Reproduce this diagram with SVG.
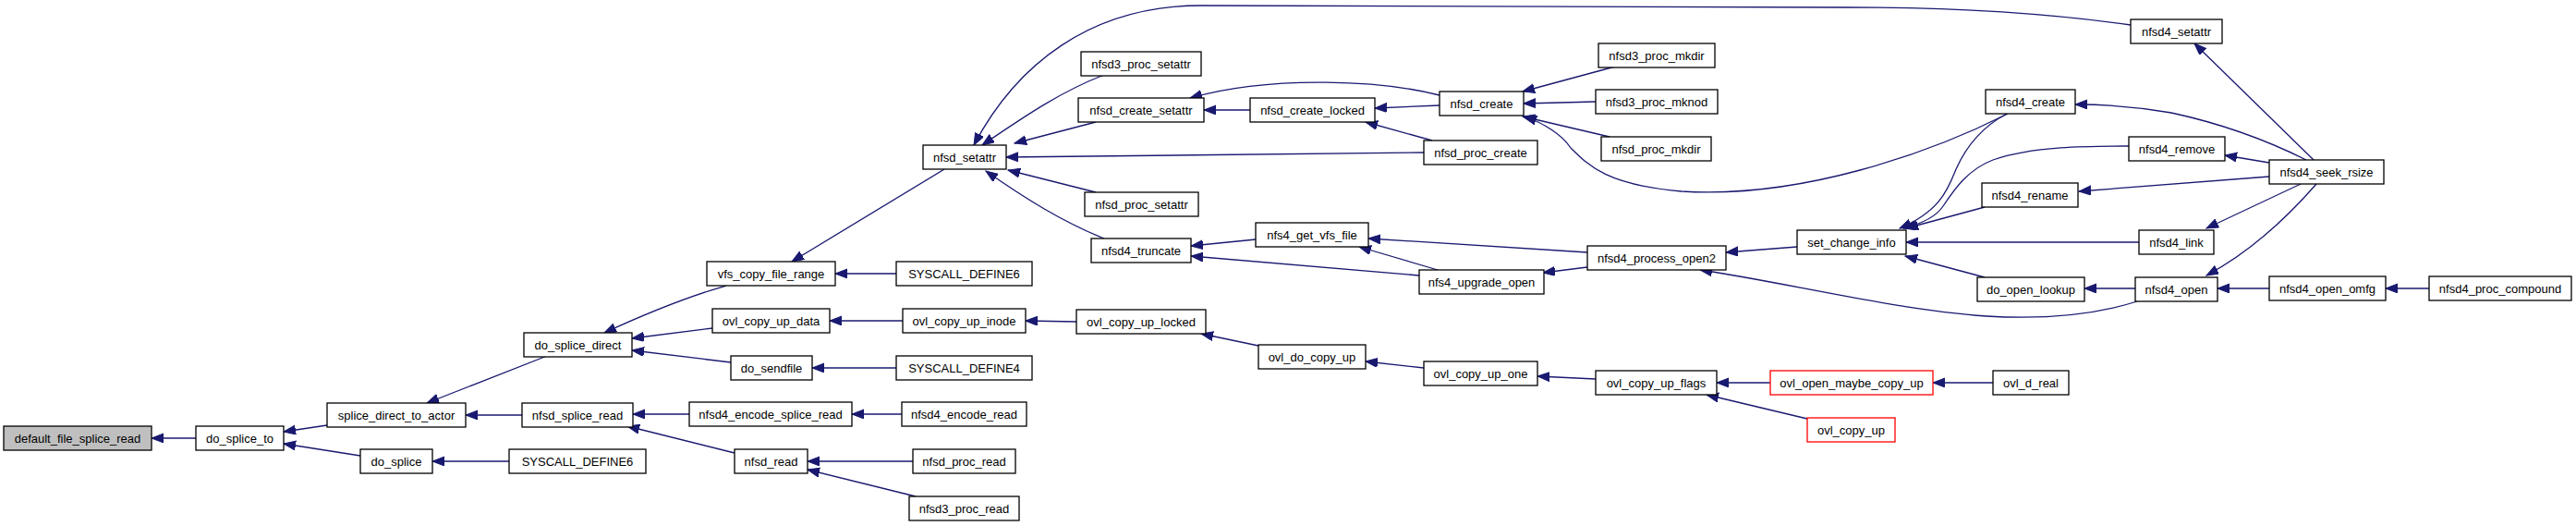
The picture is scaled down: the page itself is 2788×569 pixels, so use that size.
<svg xmlns="http://www.w3.org/2000/svg" width="2788" height="569" viewBox="0 0 2788 569">
<style>
.n rect{fill:#fff;stroke:#000;stroke-width:1.3}
.n.root rect{fill:#bfbfbf}
.n.red rect{stroke:#ff0000}
.n text{font-family:"Liberation Sans",Arial,sans-serif;font-size:13px;fill:#000;text-anchor:middle}
#edges path{fill:none;stroke:#191970;stroke-width:1.3;marker-end:url(#arr)}
</style>
<defs>
<marker id="arr" markerUnits="userSpaceOnUse" markerWidth="14" markerHeight="11" refX="13" refY="5" orient="auto">
<path d="M0,0 L13,5 L0,10 Z" fill="#191970" stroke="#191970" stroke-width="1"/>
</marker>
</defs>
<rect width="2788" height="569" fill="#fff"/>
<g id="edges">
<path d="M212,474 L164,474"/>
<path d="M354,460 L307,467"/>
<path d="M390,493 L307,480"/>
<path d="M592,385 L462,436"/>
<path d="M565,449 L504,449"/>
<path d="M551,499 L468,499"/>
<path d="M786,309 Q730,325 654,360"/>
<path d="M771,355 L684,366"/>
<path d="M791,392 L684,379"/>
<path d="M970,296 L904,296"/>
<path d="M977,347 L898,347"/>
<path d="M970,398 L879,398"/>
<path d="M746,448 L685,448"/>
<path d="M795,490 L679,461"/>
<path d="M976,448 L922,448"/>
<path d="M988,499 L874,499"/>
<path d="M991,537 L874,508"/>
<path d="M1022,183 L857,283"/>
<path d="M1165,348 L1110,347"/>
<path d="M1362,374 L1300,361"/>
<path d="M1541,398 L1478,391"/>
<path d="M1727,410 L1664,407"/>
<path d="M1916,414 L1858,414"/>
<path d="M1956,453 L1847,427"/>
<path d="M2157,414 L2092,414"/>
<path d="M1195,81 C1150,98 1110,125 1063,157"/>
<path d="M2306,27 C2200,12 2100,8 2000,8 L1300,6 C1180,6 1100,70 1054,157"/>
<path d="M1186,132 L1098,155"/>
<path d="M1541,165 L1089,170"/>
<path d="M1186,208 L1091,184"/>
<path d="M1195,258 C1150,240 1110,215 1067,185"/>
<path d="M1353,119 L1303,119"/>
<path d="M1558,103 C1500,88 1380,80 1288,106"/>
<path d="M1558,114 L1488,117"/>
<path d="M1550,152 L1478,132"/>
<path d="M1748,72 L1648,99"/>
<path d="M1727,110 L1649,112"/>
<path d="M1742,148 L1648,126"/>
<path d="M2173,123 C2090,165 1950,215 1820,207 C1740,200 1720,180 1700,160 C1690,145 1670,133 1650,126"/>
<path d="M1359,259 L1289,266"/>
<path d="M1536,298 L1289,277"/>
<path d="M1718,273 L1481,258"/>
<path d="M1556,292 L1471,267"/>
<path d="M1718,289 L1670,295"/>
<path d="M1945,267 L1868,273"/>
<path d="M2313,326 C2260,343 2200,345 2150,342 C2050,335 1930,305 1840,292"/>
<path d="M2172,123 C2140,140 2125,165 2117,183 C2108,205 2100,228 2056,247"/>
<path d="M2304,158 C2260,158 2200,158 2157,173 C2130,183 2115,205 2103,223 C2095,235 2080,242 2060,247"/>
<path d="M2148,224 L2063,247"/>
<path d="M2315,262 L2063,262"/>
<path d="M2148,300 L2062,277"/>
<path d="M2504,173 L2375,47"/>
<path d="M2496,173 C2460,155 2410,135 2350,122 C2310,115 2280,113 2246,113"/>
<path d="M2456,176 L2408,168"/>
<path d="M2456,191 L2250,207"/>
<path d="M2490,199 L2388,247"/>
<path d="M2507,199 C2480,230 2440,270 2388,298"/>
<path d="M2456,312 L2400,312"/>
<path d="M2629,312 L2582,312"/>
<path d="M2311,312 L2256,312"/>
</g>
<g id="default_file_splice_read" class="n root"><rect x="4" y="461" width="160" height="26"/><text x="84" y="478.5">default_file_splice_read</text></g>
<g id="do_splice_to" class="n"><rect x="212" y="461" width="95" height="26"/><text x="259.5" y="478.5">do_splice_to</text></g>
<g id="splice_direct_to_actor" class="n"><rect x="354" y="436" width="150" height="26"/><text x="429" y="453.5">splice_direct_to_actor</text></g>
<g id="do_splice" class="n"><rect x="390" y="486" width="78" height="26"/><text x="429" y="503.5">do_splice</text></g>
<g id="do_splice_direct" class="n"><rect x="567" y="360" width="117" height="26"/><text x="625.5" y="377.5">do_splice_direct</text></g>
<g id="nfsd_splice_read" class="n"><rect x="565" y="436" width="120" height="26"/><text x="625" y="453.5">nfsd_splice_read</text></g>
<g id="SYSCALL_DEFINE6_a" class="n"><rect x="551" y="486" width="148" height="26"/><text x="625" y="503.5">SYSCALL_DEFINE6</text></g>
<g id="vfs_copy_file_range" class="n"><rect x="765" y="283" width="139" height="26"/><text x="834.5" y="300.5">vfs_copy_file_range</text></g>
<g id="SYSCALL_DEFINE6_b" class="n"><rect x="970" y="283" width="147" height="26"/><text x="1043.5" y="300.5">SYSCALL_DEFINE6</text></g>
<g id="ovl_copy_up_data" class="n"><rect x="771" y="334" width="127" height="26"/><text x="834.5" y="351.5">ovl_copy_up_data</text></g>
<g id="ovl_copy_up_inode" class="n"><rect x="977" y="334" width="133" height="26"/><text x="1043.5" y="351.5">ovl_copy_up_inode</text></g>
<g id="do_sendfile" class="n"><rect x="791" y="385" width="88" height="26"/><text x="835" y="402.5">do_sendfile</text></g>
<g id="SYSCALL_DEFINE4" class="n"><rect x="970" y="385" width="147" height="26"/><text x="1043.5" y="402.5">SYSCALL_DEFINE4</text></g>
<g id="nfsd4_encode_splice_read" class="n"><rect x="746" y="435" width="176" height="26"/><text x="834" y="452.5">nfsd4_encode_splice_read</text></g>
<g id="nfsd4_encode_read" class="n"><rect x="976" y="435" width="135" height="26"/><text x="1043.5" y="452.5">nfsd4_encode_read</text></g>
<g id="nfsd_read" class="n"><rect x="795" y="486" width="79" height="26"/><text x="834.5" y="503.5">nfsd_read</text></g>
<g id="nfsd_proc_read" class="n"><rect x="988" y="486" width="111" height="26"/><text x="1043.5" y="503.5">nfsd_proc_read</text></g>
<g id="nfsd3_proc_read" class="n"><rect x="984" y="537" width="119" height="26"/><text x="1043.5" y="554.5">nfsd3_proc_read</text></g>
<g id="nfsd_setattr" class="n"><rect x="999" y="157" width="90" height="26"/><text x="1044" y="174.5">nfsd_setattr</text></g>
<g id="ovl_copy_up_locked" class="n"><rect x="1165" y="335" width="140" height="26"/><text x="1235" y="352.5">ovl_copy_up_locked</text></g>
<g id="ovl_do_copy_up" class="n"><rect x="1362" y="373" width="116" height="26"/><text x="1420" y="390.5">ovl_do_copy_up</text></g>
<g id="ovl_copy_up_one" class="n"><rect x="1541" y="391" width="123" height="26"/><text x="1602.5" y="408.5">ovl_copy_up_one</text></g>
<g id="ovl_copy_up_flags" class="n"><rect x="1727" y="401" width="131" height="26"/><text x="1792.5" y="418.5">ovl_copy_up_flags</text></g>
<g id="ovl_open_maybe_copy_up" class="n red"><rect x="1916" y="401" width="176" height="26"/><text x="2004" y="418.5">ovl_open_maybe_copy_up</text></g>
<g id="ovl_copy_up" class="n red"><rect x="1956" y="452" width="95" height="26"/><text x="2003.5" y="469.5">ovl_copy_up</text></g>
<g id="ovl_d_real" class="n"><rect x="2157" y="401" width="82" height="26"/><text x="2198" y="418.5">ovl_d_real</text></g>
<g id="nfsd3_proc_setattr" class="n"><rect x="1170" y="56" width="130" height="26"/><text x="1235" y="73.5">nfsd3_proc_setattr</text></g>
<g id="nfsd_create_setattr" class="n"><rect x="1167" y="106" width="136" height="26"/><text x="1235" y="123.5">nfsd_create_setattr</text></g>
<g id="nfsd_proc_setattr" class="n"><rect x="1174" y="208" width="123" height="26"/><text x="1235.5" y="225.5">nfsd_proc_setattr</text></g>
<g id="nfsd4_truncate" class="n"><rect x="1181" y="258" width="108" height="26"/><text x="1235" y="275.5">nfsd4_truncate</text></g>
<g id="nfsd_create_locked" class="n"><rect x="1353" y="106" width="135" height="26"/><text x="1420.5" y="123.5">nfsd_create_locked</text></g>
<g id="nfsd_create" class="n"><rect x="1558" y="99" width="91" height="26"/><text x="1603.5" y="116.5">nfsd_create</text></g>
<g id="nfsd_proc_create" class="n"><rect x="1541" y="152" width="123" height="26"/><text x="1602.5" y="169.5">nfsd_proc_create</text></g>
<g id="nfs4_get_vfs_file" class="n"><rect x="1359" y="241" width="122" height="26"/><text x="1420" y="258.5">nfs4_get_vfs_file</text></g>
<g id="nfs4_upgrade_open" class="n"><rect x="1536" y="292" width="135" height="26"/><text x="1603.5" y="309.5">nfs4_upgrade_open</text></g>
<g id="nfsd3_proc_mkdir" class="n"><rect x="1730" y="47" width="126" height="26"/><text x="1793" y="64.5">nfsd3_proc_mkdir</text></g>
<g id="nfsd3_proc_mknod" class="n"><rect x="1727" y="97" width="132" height="26"/><text x="1793" y="114.5">nfsd3_proc_mknod</text></g>
<g id="nfsd_proc_mkdir" class="n"><rect x="1733" y="148" width="119" height="26"/><text x="1792.5" y="165.5">nfsd_proc_mkdir</text></g>
<g id="nfsd4_process_open2" class="n"><rect x="1718" y="266" width="150" height="26"/><text x="1793" y="283.5">nfsd4_process_open2</text></g>
<g id="set_change_info" class="n"><rect x="1945" y="249" width="118" height="26"/><text x="2004" y="266.5">set_change_info</text></g>
<g id="nfsd4_create" class="n"><rect x="2149" y="97" width="97" height="26"/><text x="2197.5" y="114.5">nfsd4_create</text></g>
<g id="nfsd4_remove" class="n"><rect x="2304" y="148" width="104" height="26"/><text x="2356" y="165.5">nfsd4_remove</text></g>
<g id="nfsd4_rename" class="n"><rect x="2145" y="198" width="104" height="26"/><text x="2197" y="215.5">nfsd4_rename</text></g>
<g id="nfsd4_link" class="n"><rect x="2315" y="249" width="81" height="26"/><text x="2355.5" y="266.5">nfsd4_link</text></g>
<g id="do_open_lookup" class="n"><rect x="2140" y="300" width="116" height="26"/><text x="2198" y="317.5">do_open_lookup</text></g>
<g id="nfsd4_open" class="n"><rect x="2311" y="300" width="89" height="26"/><text x="2355.5" y="317.5">nfsd4_open</text></g>
<g id="nfsd4_setattr" class="n"><rect x="2306" y="21" width="99" height="26"/><text x="2355.5" y="38.5">nfsd4_setattr</text></g>
<g id="nfsd4_seek_rsize" class="n"><rect x="2456" y="173" width="124" height="26"/><text x="2518" y="190.5">nfsd4_seek_rsize</text></g>
<g id="nfsd4_open_omfg" class="n"><rect x="2456" y="299" width="126" height="26"/><text x="2519" y="316.5">nfsd4_open_omfg</text></g>
<g id="nfsd4_proc_compound" class="n"><rect x="2629" y="299" width="154" height="26"/><text x="2706" y="316.5">nfsd4_proc_compound</text></g>
</svg>
